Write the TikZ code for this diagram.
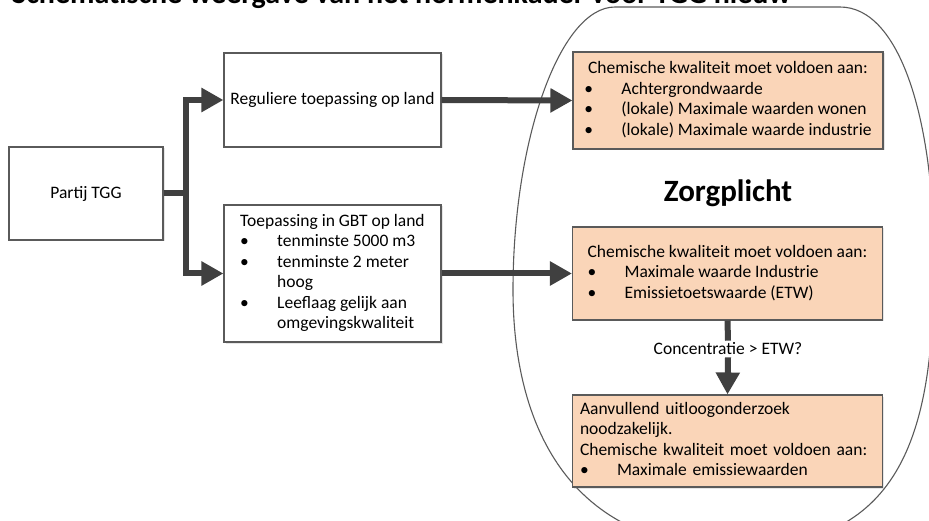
\documentclass[tikz,border=0pt]{standalone}
\usepackage{fontspec}
\setmainfont{Carlito}
\usetikzlibrary{arrows.meta,shadows}
\definecolor{perzik}{HTML}{FAD5B8}
\definecolor{pijlgrijs}{HTML}{404040}
\definecolor{randgrijs}{HTML}{5A5A5A}
\newcommand{\blt}[1]{\makebox[37pt][l]{\textbullet}#1}
\begin{document}
\begin{tikzpicture}[x=1pt,y=-1pt,
			every node/.style = {font=\fontsize{17.5}{20.5}\selectfont, inner sep=0pt},
			wit/.style = {draw=randgrijs, line width=1.1pt, fill=white,
				drop shadow={shadow xshift=1.5pt, shadow yshift=-1.5pt, opacity=.2}},
			oranje/.style = {wit, fill=perzik, minimum width=310},
			pijl/.style = {draw=pijlgrijs, line width=6pt, -{Triangle[length=22pt,width=23pt]}},
			streep/.style = {draw=pijlgrijs, line width=6pt},
			ovaal/.style = {draw=randgrijs, line width=1.1pt}]
			
			\useasboundingbox (0,0) rectangle (929,521);
			\clip (0,0) rectangle (929,521);
			
			\node[anchor=base west, font=\fontsize{30}{32}\selectfont\bfseries] (titel) at (12,4)
				{Schematische weergave van het normenkader voor TGG nieuw};
			
			\draw[ovaal] (615,7) -- (840,7)
				.. controls (900,7) and (934,120) .. (934,260)
				.. controls (934,430) and (905,545) .. (740,548)
				.. controls (565,550) and (513,420) .. (513,290)
				.. controls (513,140) and (560,7) .. (615,7) -- cycle;
			
			\node[wit, minimum width=154, minimum height=93] (tgg) at (86,193.5) {Partij TGG};
			\node[wit, minimum width=217, minimum height=94] (regulier) at (332.5,100)
				{Reguliere toepassing op land};
			\node[wit, minimum width=217, minimum height=137] (gbt) at (332.5,273.5)
				{\begin{tabular}{@{}l@{}}
					\multicolumn{1}{@{}c@{}}{Toepassing in GBT op land}\\
					\blt{tenminste 5000 m3}\\
					\blt{tenminste 2 meter}\\
					\hspace*{37pt}hoog\\
					\blt{Leeflaag gelijk aan}\\
					\hspace*{37pt}omgevingskwaliteit
				\end{tabular}};
			
			\node[oranje, minimum height=97] (eis1) at (728,100.5)
				{\begin{tabular}{@{}l@{}}
					\multicolumn{1}{@{}c@{}}{Chemische kwaliteit moet voldoen aan:}\\
					\blt{Achtergrondwaarde}\\
					\blt{(lokale) Maximale waarden wonen}\\
					\blt{(lokale) Maximale waarde industrie}
				\end{tabular}};
			\node[font=\fontsize{31}{34}\selectfont\bfseries] (zorg) at (728,193) {Zorgplicht};
			\node[oranje, minimum height=93] (eis2) at (727.5,273.5)
				{\begin{tabular}{@{}l@{}}
					\multicolumn{1}{@{}c@{}}{Chemische kwaliteit moet voldoen aan:}\\
					\blt{Maximale waarde Industrie}\\
					\blt{Emissietoetswaarde (ETW)}
				\end{tabular}};
			\node[inner sep=2pt] (vraag) at (728,349) {Concentratie > ETW?};
			\node[oranje, minimum height=92, text width=295, inner xsep=7pt, align=left] (eis3) at (727.5,441)
				{\begin{tabular}{@{}l@{}}
					Aanvullend uitloogonderzoek\\
					noodzakelijk.\\
					Chemische kwaliteit moet voldoen aan:\\
					\blt{Maximale emissiewaarden}
				\end{tabular}};
			
			\draw[pijl] (tgg.east) -- ++(22,0) |- (regulier.west);
			\draw[pijl] (tgg.east) -- ++(22,0) |- (gbt.west);
			\draw[pijl] (regulier.east) -- (eis1.west);
			\draw[pijl] (gbt.east) -- (eis2.west);
			\draw[streep] (eis2.south) -- (vraag.north);
			\draw[pijl] (vraag.south) -- (eis3.north);
			\end{tikzpicture}
\end{document}
